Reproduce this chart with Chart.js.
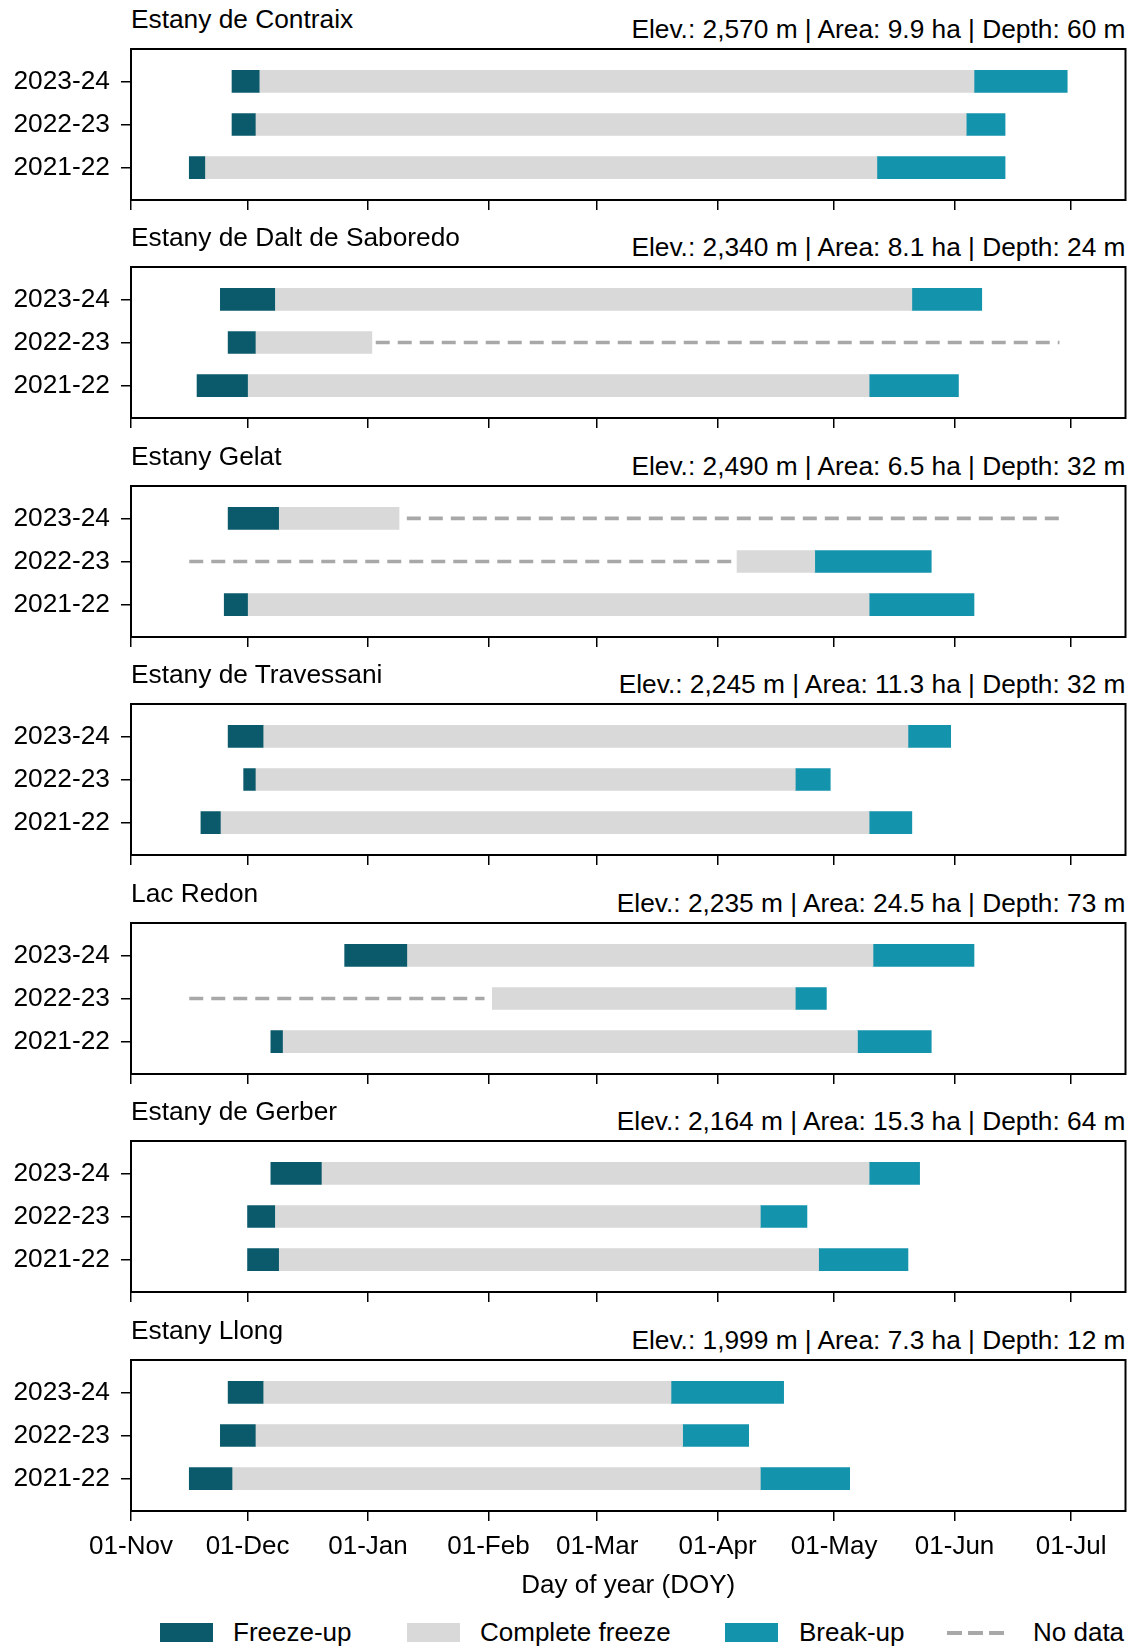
<!DOCTYPE html>
<html>
<head>
<meta charset="utf-8">
<script src="https://cdn.jsdelivr.net/npm/chart.js@4.4.1/dist/chart.umd.min.js"></script>
<style>
  html, body { margin: 0; padding: 0; background: #fff; }
  #fig { position: relative; width: 1136px; height: 1647px; overflow: hidden;
         font-family: "Liberation Sans", Arial, sans-serif; color: #000; }
  .box { position: absolute; left: 0; width: 1136px; }
  .ttl { position: absolute; font-size: 26.3px; line-height: 26px; white-space: nowrap; }
  .leg { position: absolute; top: 1619px; font-size: 26px; line-height: 26px; white-space: nowrap; }
  .sw { position: absolute; top: 1623px; width: 53px; height: 19px; }
  .dash { position: absolute; top: 1631px; width: 58px; height: 3.5px;
          background: repeating-linear-gradient(to right, #a8a8a8 0 15px, transparent 15px 21px); }
</style>
</head>
<body>
<div id="fig">
  <div class="sw" style="left:160px;background:#0a5a6b"></div>
  <div class="leg" style="left:233px">Freeze-up</div>
  <div class="sw" style="left:407px;background:#d9d9d9"></div>
  <div class="leg" style="left:480px">Complete freeze</div>
  <div class="sw" style="left:725px;background:#1493ad"></div>
  <div class="leg" style="left:799px">Break-up</div>
  <div class="dash" style="left:947px"></div>
  <div class="leg" style="left:1033px">No data</div>
</div>
<script>
// ===============================
// Data (days counted from 01-Nov)
// ===============================
const seasons = ['2021-22', '2022-23', '2023-24'];
const monthTicks = [0, 30, 61, 92, 120, 151, 181, 212, 242];
const monthLabels = ['01-Nov', '01-Dec', '01-Jan', '01-Feb', '01-Mar', '01-Apr', '01-May', '01-Jun', '01-Jul'];

const lakes = [
  'Estany de Contraix', 'Estany de Dalt de Saboredo', 'Estany Gelat',
  'Estany de Travessani', 'Lac Redon', 'Estany de Gerber', 'Estany Llong'
];
const lakeInfo = [
  'Elev.: 2,570 m | Area: 9.9 ha | Depth: 60 m',
  'Elev.: 2,340 m | Area: 8.1 ha | Depth: 24 m',
  'Elev.: 2,490 m | Area: 6.5 ha | Depth: 32 m',
  'Elev.: 2,245 m | Area: 11.3 ha | Depth: 32 m',
  'Elev.: 2,235 m | Area: 24.5 ha | Depth: 73 m',
  'Elev.: 2,164 m | Area: 15.3 ha | Depth: 64 m',
  'Elev.: 1,999 m | Area: 7.3 ha | Depth: 12 m'
];

// one [start, end] per season: 2021-22, 2022-23, 2023-24
const freezeUp = [
  [[15, 19], [26, 32], [26, 33]],
  [[17, 30], [25, 32], [23, 37]],
  [[24, 30], null, [25, 38]],
  [[18, 23], [29, 32], [25, 34]],
  [[36, 39], null, [55, 71]],
  [[30, 38], [30, 37], [36, 49]],
  [[15, 26], [23, 32], [25, 34]]
];
const completeFreeze = [
  [[19, 192], [32, 215], [33, 217]],
  [[30, 190], [32, 62], [37, 201]],
  [[30, 190], [156, 176], [38, 69]],
  [[23, 190], [32, 171], [34, 200]],
  [[39, 187], [93, 171], [71, 191]],
  [[38, 177], [37, 162], [49, 190]],
  [[26, 162], [32, 142], [34, 139]]
];
const breakUp = [
  [[192, 225], [215, 225], [217, 241]],
  [[190, 213], null, [201, 219]],
  [[190, 217], [176, 206], null],
  [[190, 201], [171, 180], [200, 211]],
  [[187, 206], [171, 179], [191, 217]],
  [[177, 200], [162, 174], [190, 203]],
  [[162, 185], [142, 159], [139, 168]]
];
const noData = [
  [null, null, null],
  [null, [63, 239], null],
  [null, [15, 155], [71, 239]],
  [null, null, null],
  [null, [15, 91], null],
  [null, null, null],
  [null, null, null]
];

// ===============================
// Layout
// ===============================
const panelTops = [49, 267, 486, 704, 923, 1141, 1360];
const padTop = 30;
const colors = { freeze: '#0a5a6b', complete: '#d9d9d9', breakup: '#1493ad', nodata: '#a8a8a8' };

Chart.defaults.font.family = "'Liberation Sans', Arial, sans-serif";
Chart.defaults.font.size = 26;
Chart.defaults.color = '#000';

const framePlugin = {
  id: 'frame',
  afterDraw(chart) {
    const a = chart.chartArea, ctx = chart.ctx;
    ctx.save();
    ctx.strokeStyle = '#000';
    ctx.lineWidth = 2;
    ctx.strokeRect(a.left, a.top, a.right - a.left, a.bottom - a.top);
    ctx.restore();
  }
};

function barSet(label, rows, color) {
  const data = [];
  rows.forEach((r, j) => { if (r) data.push({ x: r, y: j }); });
  return { type: 'bar', label, data, backgroundColor: color, borderWidth: 0,
           barThickness: 22, grouped: false };
}

function gapSets(rows) {
  const out = [];
  rows.forEach((r, j) => {
    if (!r) return;
    out.push({
      type: 'line', label: 'No data', indexAxis: 'x',
      data: [{ x: r[0], y: j }, { x: r[1], y: j }],
      borderColor: colors.nodata, borderWidth: 3.6, borderDash: [14, 8],
      pointRadius: 0, fill: false
    });
  });
  return out;
}

const fig = document.getElementById('fig');

lakes.forEach((name, i) => {
  const last = i === lakes.length - 1;
  const top = panelTops[i];

  const t1 = document.createElement('div');
  t1.className = 'ttl';
  t1.style.left = '131px';
  t1.style.top = (top - 43) + 'px';
  t1.textContent = name;
  fig.appendChild(t1);

  const t2 = document.createElement('div');
  t2.className = 'ttl';
  t2.style.right = '10.5px';
  t2.style.top = (top - 33) + 'px';
  t2.textContent = lakeInfo[i];
  fig.appendChild(t2);

  const xh = last ? 94 : 10;
  const h = last ? padTop + 151 + xh + 4 : padTop + 151 + xh + 20;
  const wrap = document.createElement('div');
  wrap.className = 'box';
  wrap.style.top = (top - padTop) + 'px';
  wrap.style.height = h + 'px';
  const cv = document.createElement('canvas');
  cv.width = 1136;
  cv.height = h;
  wrap.appendChild(cv);
  fig.appendChild(wrap);

  new Chart(cv, {
    type: 'bar',
    data: {
      datasets: [
        barSet('Freeze-up', freezeUp[i], colors.freeze),
        barSet('Complete freeze', completeFreeze[i], colors.complete),
        barSet('Break-up', breakUp[i], colors.breakup),
        ...gapSets(noData[i])
      ]
    },
    options: {
      indexAxis: 'y',
      responsive: false,
      animation: false,
      events: [],
      layout: { padding: { top: padTop, right: 10.5, bottom: last ? 4 : 20, left: 0 } },
      plugins: { legend: { display: false }, tooltip: { enabled: false } },
      scales: {
        x: {
          type: 'linear', min: 0, max: 256, bounds: 'data', offset: false,
          afterBuildTicks: s => { s.ticks = monthTicks.map(v => ({ value: v })); },
          afterFit: s => { s.height = xh; },
          ticks: {
            display: last, autoSkip: false, maxRotation: 0, padding: 10,
            callback: (v, k) => monthLabels[k]
          },
          grid: { offset: false, drawOnChartArea: false, drawTicks: true, tickLength: 10,
                  color: '#000', lineWidth: 1.5 },
          border: { display: false },
          title: { display: last, text: 'Day of year (DOY)', padding: { top: 7, bottom: 4 } }
        },
        y: {
          type: 'linear', min: -0.75, max: 2.75, bounds: 'data', offset: false,
          afterBuildTicks: s => { s.ticks = seasons.map((_, j) => ({ value: j })); },
          afterFit: s => { s.width = 131; },
          ticks: { padding: 11, font: { size: 26.3 }, callback: v => seasons[v] },
          grid: { offset: false, drawOnChartArea: false, drawTicks: true, tickLength: 10,
                  color: '#000', lineWidth: 1.5 },
          border: { display: false }
        }
      }
    },
    plugins: [framePlugin]
  });
});
</script>
</body>
</html>
